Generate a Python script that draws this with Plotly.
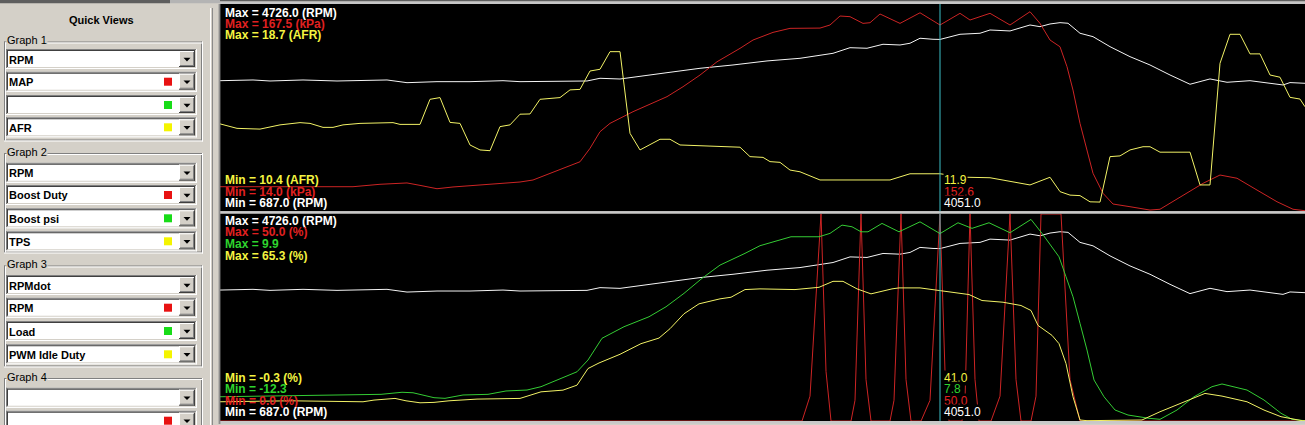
import numpy as np
import plotly.graph_objects as go

W, H = 1305, 425

# ---------------- data (log time, engineering units) ----------------
rpm_t = [0, 3.3, 5.0, 8.3, 11.7, 15.0, 16.7, 18.7, 21.7, 25.0, 28.3, 30.0, 33.3, 36.7, 38.0, 40.0,
         44.7, 48.0, 51.3, 54.7, 58.0, 61.3, 63.0, 64.7, 66.3, 68.0, 69.0, 70.0, 71.3, 72.0,
         74.0, 76.0, 77.0, 78.3, 79.0, 81.0, 82.0, 83.0, 84.0, 84.8, 86.0, 87.3, 89.0, 91.0,
         93.0, 95.0, 97.0, 99.0, 100.7, 103.0, 105.0, 106.3, 107.0, 108.5]
rpm = [3242, 3256, 3236, 3256, 3236, 3242, 3256, 3203, 3223, 3223, 3242, 3223, 3229, 3236, 3289, 3275,
       3399, 3485, 3550, 3629, 3681, 3779, 3889, 3878, 3956, 3942, 3976, 4074, 4054, 4051,
       4152, 4172, 4236, 4230, 4217, 4334, 4301, 4354, 4380, 4368, 4172, 4105, 3909, 3713,
       3550, 3354, 3172, 3276, 3211, 3242, 3191, 3158, 3205, 3191]

map_t = [0, 13.3, 16.0, 18.7, 20.0, 21.7, 23.3, 26.7, 30.0, 31.3,
         33.3, 36.0, 37.0, 38.0, 39.0, 40.0, 41.3, 44.7, 46.3, 48.0,
         49.7, 52.0, 53.3, 55.3, 57.0, 60.0, 61.0, 62.0, 63.0, 64.3,
         65.0, 66.0, 68.0, 70.0, 72.0, 74.0, 75.0, 77.0, 79.0, 81.0,
         82.0, 83.0, 84.0, 84.7, 85.3, 86.0, 86.7, 87.3, 88.3, 89.3,
         91.0, 93.0, 94.0, 96.3, 98.3, 100.0, 101.7, 103.7, 105.7, 107.3, 108.5]
map_kpa = [32.1, 32.1, 33.9, 34.9, 33.1, 30.6, 31.9, 33.9, 35.6, 37.1,
           42.8, 50.7, 60.7, 73.1, 79.3, 83.1, 88.0, 99.2, 106.6, 115.3,
           125.2, 135.2, 141.4, 147.1, 150.1, 150.3, 152.6, 159.3, 158.8, 153.8,
           154.3, 160.8, 153.8, 161.7, 152.6, 161.3, 156.3, 161.3, 152.6, 162.5,
           153.8, 141.4, 136.4, 121.5, 104.1, 79.3, 59.4, 42.1, 27.2, 19.2,
           17.2, 14.7, 15.3, 25.9, 34.6, 40.8, 38.4, 29.6, 20.9, 15.3, 14.2]

afr_t = [0, 1.7, 4.0, 6.0, 8.0, 9.0, 10.3, 11.3, 12.3, 14.0,
         17.3, 18.0, 20.0, 21.0, 22.0, 23.0, 24.0, 25.0, 26.0, 27.0,
         28.0, 29.0, 30.0, 31.0, 32.0, 34.0, 35.0, 36.0, 37.0, 38.0,
         39.0, 40.0, 41.0, 42.0, 44.0, 45.0, 46.0, 49.3, 52.0, 53.0,
         54.3, 55.0, 56.0, 57.0, 58.0, 60.0, 67.0, 69.0, 72.0, 74.7,
         77.0, 81.0, 83.0, 84.0, 85.0, 86.0, 87.0, 88.0, 89.0, 90.0,
         91.0, 92.3, 93.0, 94.0, 97.0, 98.0, 99.0, 100.0, 101.0, 102.0,
         103.0, 104.0, 105.0, 106.0, 107.0, 108.0, 108.5]
afr = [13.91, 13.73, 13.70, 13.87, 13.96, 13.93, 13.77, 13.77, 13.87, 13.93,
       13.96, 13.89, 13.89, 14.90, 14.97, 13.97, 13.93, 13.06, 12.86, 12.83,
       13.80, 13.87, 14.30, 14.31, 14.90, 14.97, 15.28, 15.30, 16.04, 16.11,
       16.82, 16.82, 13.53, 12.86, 13.29, 13.29, 13.06, 13.02, 12.97, 12.59,
       12.56, 12.39, 12.36, 12.05, 11.98, 11.65, 11.65, 11.9, 11.9, 11.76,
       11.74, 11.45, 11.76, 11.18, 11.04, 11.02, 10.77, 10.76, 12.59, 12.62,
       12.86, 12.99, 12.99, 12.77, 12.77, 11.45, 11.45, 16.35, 17.52, 17.52,
       16.73, 16.73, 15.88, 15.79, 14.98, 14.91, 14.60]

duty_t = [0, 58.2, 59.0, 60.1, 60.6, 61.1,
          63.1, 63.5, 64.1, 64.6, 65.1,
          67.0, 67.4, 68.1, 68.6, 69.1,
          70.1, 71.0, 72.0, 72.5, 72.9,
          74.2, 74.5, 75.0, 75.5, 75.9,
          77.1, 78.0, 79.0, 79.6, 80.1,
          81.1, 81.6, 82.1, 84.1, 85.0, 86.0, 108.5]
boost_duty = [0, 0, 6, 50, 12, 0,
              0, 5, 50, 10, 0,
              0, 5, 50, 10, 0,
              0, 5, 50, 12, 0,
              0, 5, 50, 10, 0,
              0, 6, 50, 10, 0,
              0, 6, 50, 50, 10, 0, 0]

psi_t = [0, 10.7, 16.1, 18.2, 19.3, 21.4, 22.5, 24.3, 26.8, 28.6,
         30.7, 32.1, 33.6, 35.7, 36.8, 38.2, 40.4, 42.9, 44.6, 46.4,
         48.2, 50.0, 52.5, 54.0, 57.1, 59.9, 61.0, 62.2, 63.2, 64.1,
         64.8, 66.2, 67.9, 70.0, 72.0, 73.8, 75.2, 76.9, 79.0, 81.1,
         82.2, 83.2, 83.9, 84.6, 85.3, 86.0, 86.7, 87.4, 88.4, 89.5,
         90.8, 92.9, 94.0, 95.7, 97.4, 99.2, 100.2, 102.7, 104.4, 106.1,
         107.2, 108.5]
boost_psi = [-9.70, -9.51, -9.44, -9.22, -9.27, -9.80, -9.87, -9.51, -9.44, -9.08,
             -8.98, -8.62, -7.98, -7.02, -5.76, -3.43, -2.19, -1.12, -0.05, 1.39,
             3.00, 4.42, 5.68, 6.50, 7.46, 7.46, 7.82, 8.71, 8.53, 7.99,
             7.99, 8.89, 7.99, 9.06, 7.80, 8.96, 8.36, 8.96, 7.89, 9.32,
             7.82, 6.38, 5.31, 3.17, 1.02, -1.83, -4.69, -7.90, -9.70, -11.12,
             -11.66, -12.01, -12.12, -11.12, -9.70, -8.62, -8.33, -8.98, -10.05, -11.47,
             -12.12, -12.27]

tps_t = [0, 7.1, 14.3, 15.4, 17.5, 18.6, 20.0, 21.4, 22.9, 25.7,
         30.0, 32.1, 34.3, 35.7, 36.8, 37.9, 40.0, 42.1, 43.9, 45.0,
         46.4, 47.9, 50.0, 51.1, 52.5, 54.0, 57.5, 59.9, 61.3, 62.3,
         63.7, 65.1, 67.2, 67.9, 70.0, 72.0, 74.9, 76.2, 78.3, 80.1,
         81.1, 81.8, 83.2, 83.9, 84.6, 85.3, 86.0, 86.7, 92.2, 94.0,
         96.4, 98.5, 100.2, 102.7, 104.4, 106.1, 108.2, 108.5]
tps = [5.79, 6.10, 5.79, 6.33, 6.86, 6.10, 5.47, 5.60, 6.10, 6.64,
       6.86, 8.94, 9.48, 11.06, 16.33, 18.09, 20.84, 24.21, 25.98, 28.95,
       33.68, 36.83, 38.41, 38.92, 41.35, 41.57, 41.35, 42.07, 43.96, 43.96,
       41.57, 39.99, 41.57, 41.88, 41.88, 41.0, 39.77, 37.88, 37.34, 36.30,
       34.72, 29.99, 26.83, 24.21, 17.90, 7.37, 0.02, -0.20, 0.02, 2.63,
       5.79, 8.44, 7.59, 5.79, 3.17, 1.06, -0.20, -0.20]

# log-wide min / max of each channel (shown as labels, used as graph scale)
rpm_min, rpm_max = 687.0, 4726.0
map_min, map_max = 14.0, 167.5
afr_min, afr_max = 10.4, 18.7
duty_min, duty_max = 0.0, 50.0
psi_min, psi_max = -12.3, 9.9
tps_min, tps_max = -0.3, 65.3

cursor_t = 72.0
view_t = [0, 108.5]

# quick views panel
panel_groups = ["Graph 1", "Graph 2", "Graph 3", "Graph 4"]
panel_rows = [["RPM", "MAP", "", "AFR"],
              ["RPM", "Boost Duty", "Boost psi", "TPS"],
              ["RPMdot", "RPM", "Load", "PWM Idle Duty"],
              ["", ""]]

# ---------------- style ----------------
WHITE = "#f4f4f4"
RED_L = "#cc2424"
YEL_L = "#f2f266"
GRN_L = "#34cc34"
RED_T = "#e02020"
YEL_T = "#f4f440"
GRN_T = "#2ed42e"
CURSOR = "#3cc0c8"
PANEL = "#d4d0c8"
FONT = "Liberation Sans, Arial, sans-serif"

def P(x):
    return x / W

def Q(y):
    return 1 - y / H

shapes, annotations = [], []

def rect(x0, y0, x1, y1, fill, layer="above"):
    shapes.append(dict(type="rect", xref="paper", yref="paper", x0=P(x0), x1=P(x1),
                       y0=Q(y1), y1=Q(y0), fillcolor=fill, line=dict(width=0), layer=layer))

def text(x, y, s, color, size=12, bold=False, anchor="left", bg=None):
    annotations.append(dict(x=P(x), y=Q(y), xref="paper", yref="paper",
                            text=("<b>%s</b>" % s) if bold else s, showarrow=False,
                            xanchor=anchor, yanchor="middle", borderpad=0,
                            bgcolor=bg, font=dict(family=FONT, size=size, color=color)))

fig = go.Figure()

def add(t, v, yax, color):
    fig.add_trace(go.Scatter(x=t, y=v, xaxis="x", yaxis=yax, mode="lines",
                             line=dict(color=color, width=1), hoverinfo="skip",
                             showlegend=False))

add(rpm_t, rpm, "y", WHITE)
add(map_t, map_kpa, "y2", RED_L)
add(afr_t, afr, "y3", YEL_L)
add(rpm_t, rpm, "y4", WHITE)
add(duty_t, boost_duty, "y5", RED_L)
add(psi_t, boost_psi, "y6", GRN_L)
add(tps_t, tps, "y7", YEL_L)

# ---------------- chart frames ----------------
TOP0, TOP1 = 5, 211
BOT0, BOT1 = 214, 421
rect(0, 0, 170, 3.3, "#5e5e5e")
rect(170, 0, 220, 3.3, "#b4b4b4")
rect(220, 0, W, 1.4, "#5e5e5e")
rect(220, 1.4, W, 4, "#c6c6c6")
rect(220, 4, W, 211.3, "#000000", layer="below")
rect(220, 211.3, W, 213.6, "#c8c8c8")
rect(220, 213.6, W, 421.4, "#000000", layer="below")
rect(220, 420.9, W, 423.8, "#c8c8c8")
rect(218.6, 4, 220.4, 424, "#8c8c8c")
rect(210, 8, 211, H, "#ffffff")
rect(212, 8, 213, H, "#8a8a8a")

for (y0, y1) in [(4, 211.3), (213.6, 420.9)]:
    shapes.append(dict(type="line", xref="x", yref="paper", x0=cursor_t, x1=cursor_t,
                       y0=Q(y1), y1=Q(y0), line=dict(color=CURSOR, width=1), layer="above"))

# ---------------- min / max labels ----------------
def fmt(v):
    return "%.1f" % v

LX = 224
text(LX, 12.5, "Max = %s (RPM)" % fmt(rpm_max), "#ffffff", 12, True)
text(LX, 24.0, "Max = %s (kPa)" % fmt(map_max), RED_T, 12, True)
text(LX, 35.5, "Max = %s (AFR)" % fmt(afr_max), YEL_T, 12, True)
text(LX, 180.0, "Min = %s (AFR)" % fmt(afr_min), YEL_T, 12, True)
text(LX, 191.7, "Min = %s (kPa)" % fmt(map_min), RED_T, 12, True)
text(LX, 203.3, "Min = %s (RPM)" % fmt(rpm_min), "#ffffff", 12, True)

text(LX, 220.5, "Max = %s (RPM)" % fmt(rpm_max), "#ffffff", 12, True)
text(LX, 232.2, "Max = %s (%%)" % fmt(duty_max), RED_T, 12, True)
text(LX, 244.0, "Max = %s" % fmt(psi_max), GRN_T, 12, True)
text(LX, 255.8, "Max = %s (%%)" % fmt(tps_max), YEL_T, 12, True)
text(LX, 377.5, "Min = %s (%%)" % fmt(tps_min), YEL_T, 12, True)
text(LX, 389.0, "Min = %s" % fmt(psi_min), GRN_T, 12, True)
text(LX, 400.5, "Min = %s (%%)" % fmt(duty_min), RED_T, 12, True)
text(LX, 412.0, "Min = %s (RPM)" % fmt(rpm_min), "#ffffff", 12, True)

# cursor read-outs
def at(t, v):
    return fmt(float(np.interp(cursor_t, t, v)))

CX = 943
text(CX, 180.0, at(afr_t, afr), YEL_T, 12, False, bg="#000000")
text(CX, 191.7, at(map_t, map_kpa), RED_T, 12, False, bg="#000000")
text(CX, 203.3, at(rpm_t, rpm), "#ffffff", 12, False, bg="#000000")
text(CX, 378.0, at(tps_t, tps), YEL_T, 12, False, bg="#000000")
text(CX, 389.3, at(psi_t, boost_psi), GRN_T, 12, False, bg="#000000")
text(CX, 400.6, at(duty_t, boost_duty), RED_T, 12, False, bg="#000000")
text(CX, 412.0, at(rpm_t, rpm), "#ffffff", 12, False, bg="#000000")

# ---------------- quick views panel ----------------
text(101, 20, "Quick Views", "#000000", 11, True, anchor="center")

frames = [(41.5, 140.5), (153.0, 252.5), (265.5, 366.5), (378.0, 460.0)]
row_centers = [[59.0, 81.7, 105.0, 127.3],
               [172.7, 195.0, 218.3, 241.3],
               [285.0, 307.7, 331.0, 354.3],
               [397.7, 420.7]]
square_colors = [None, "#e81212", "#18dc18", "#f4f400"]

for gi, (fy0, fy1) in enumerate(frames):
    # etched group frame
    rect(4, fy0, 202, fy0 + 1, "#808080")
    rect(4, fy0, 5, fy1, "#808080")
    rect(201, fy0, 202, fy1, "#808080")
    rect(4, fy1 - 1, 202, fy1, "#808080")
    rect(5, fy0 + 1, 203, fy0 + 2, "#ffffff")
    rect(5, fy0 + 1, 6, fy1, "#ffffff")
    rect(202, fy0, 203, fy1 + 1, "#ffffff")
    rect(4, fy1, 203, fy1 + 1, "#ffffff")
    text(6, fy0 - 1.5, panel_groups[gi], "#000000", 11, False, bg=PANEL)
    for ri, c in enumerate(row_centers[gi]):
        top, bot = c - 10, c + 10
        x0, x1 = 6, 197
        rect(x0, top, x1, bot, "#ffffff")
        rect(x0, top, x1, top + 1, "#808080")
        rect(x0, top, x0 + 1, bot, "#808080")
        rect(x0 + 1, top + 1, x1 - 1, top + 2, "#404040")
        rect(x0 + 1, top + 1, x0 + 2, bot - 1, "#404040")
        rect(x0, bot - 1, x1, bot, "#ffffff")
        rect(x1 - 1, top, x1, bot, "#ffffff")
        rect(x0 + 1, bot - 2, x1 - 1, bot - 1, PANEL)
        rect(x1 - 2, top + 1, x1 - 1, bot - 1, PANEL)
        # drop-down button
        bx0, bx1, by0, by1 = 179, 195, top + 2, bot - 2
        rect(bx0, by0, bx1, by1, PANEL)
        rect(bx0, by0, bx1, by0 + 1, "#ffffff")
        rect(bx0, by0, bx0 + 1, by1, "#ffffff")
        rect(bx0, by1 - 1, bx1, by1, "#404040")
        rect(bx1 - 1, by0, bx1, by1, "#404040")
        rect(bx0 + 1, by1 - 2, bx1 - 1, by1 - 1, "#808080")
        rect(bx1 - 2, by0 + 1, bx1 - 1, by1 - 1, "#808080")
        ax, ay = 187.0, c + 0.5
        shapes.append(dict(type="path", xref="paper", yref="paper",
                           path="M %f %f L %f %f L %f %f Z" % (P(ax - 3.5), Q(ay - 1.8), P(ax + 3.5), Q(ay - 1.8), P(ax), Q(ay + 1.9)),
                           fillcolor="#000000", line=dict(width=0), layer="above"))
        sq = square_colors[ri]
        if sq:
            rect(164, c - 4, 172, c + 4, sq)
        label = panel_rows[gi][ri]
        if label:
            text(8, c + 0.5, label, "#000000", 11, True)

# ---------------- axes ----------------
top_dom = [Q(TOP1), Q(TOP0)]
bot_dom = [Q(BOT1), Q(BOT0)]
ax_common = dict(visible=False, fixedrange=True, showgrid=False, zeroline=False)
fig.update_layout(
    width=W, height=H, margin=dict(l=0, r=0, t=0, b=0),
    paper_bgcolor=PANEL, plot_bgcolor="rgba(0,0,0,0)",
    xaxis=dict(domain=[P(220), 1], range=view_t, anchor="y4", **ax_common),
    yaxis=dict(domain=top_dom, range=[rpm_min, rpm_max], **ax_common),
    yaxis2=dict(overlaying="y", range=[map_min, map_max], **ax_common),
    yaxis3=dict(overlaying="y", range=[afr_min, afr_max], **ax_common),
    yaxis4=dict(domain=bot_dom, range=[rpm_min, rpm_max], anchor="x", **ax_common),
    yaxis5=dict(overlaying="y4", range=[duty_min, duty_max], **ax_common),
    yaxis6=dict(overlaying="y4", range=[psi_min, psi_max], **ax_common),
    yaxis7=dict(overlaying="y4", range=[tps_min, tps_max], **ax_common),
    shapes=shapes, annotations=annotations, showlegend=False,
)

fig.write_html("out.html", config={"displayModeBar": False},
               post_script="document.body.style.margin='0';document.body.style.overflow='hidden';")
